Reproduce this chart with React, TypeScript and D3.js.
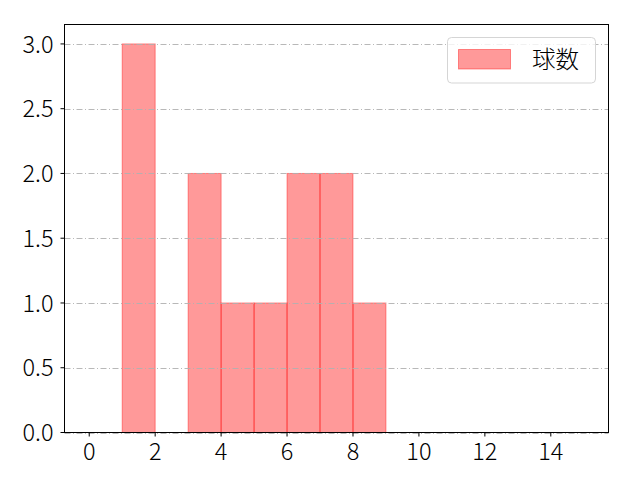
import React from "react";
import * as d3 from "d3";

const binStarts = [1, 3, 4, 5, 6, 7, 8];
const binCounts = [3, 2, 1, 1, 2, 2, 1];
const xTicks = [0, 2, 4, 6, 8, 10, 12, 14];
const yTicks = [0, 0.5, 1.0, 1.5, 2.0, 2.5, 3.0];
const seriesName = "球数";

const W = 640;
const H = 480;
const left = 64.5;
const right = 608.5;
const top = 24.5;
const bottom = 432.5;
const font = "'Noto Sans CJK JP', 'Noto Sans', sans-serif";
const fs = 23.5;
const fw = 300;

export default function App() {
  const x = d3.scaleLinear().domain([-0.75, 15.75]).range([left, right]);
  const y = d3.scaleLinear().domain([0, 3.15]).range([bottom, top]);
  return (
    <svg width={W} height={H} style={{ position: "absolute", left: 0, top: 0, background: "#fff" }}>
      <rect x={0} y={0} width={W} height={H} fill="#fff" />
      {binStarts.map((s, i) => (
        <rect
          key={i}
          x={x(s)}
          y={y(binCounts[i])}
          width={x(s + 1) - x(s)}
          height={y(0) - y(binCounts[i])}
          fill="rgba(255,0,0,0.4)"
          stroke="rgba(255,0,0,0.4)"
          strokeWidth={1}
        />
      ))}
      {yTicks.map((t) => (
        <line
          key={t}
          x1={left}
          x2={right}
          y1={Math.round(y(t)) + 0.5}
          y2={Math.round(y(t)) + 0.5}
          stroke="#b0b0b0"
          strokeWidth={0.9}
          strokeDasharray="6,2.5,1,2.5"
        />
      ))}
      <rect x={left} y={top} width={right - left} height={bottom - top} fill="none" stroke="#000" strokeWidth={1} />
      {xTicks.map((t) => (
        <g key={t}>
          <line x1={x(t)} x2={x(t)} y1={bottom} y2={bottom + 4} stroke="#000" strokeWidth={1} />
          <text x={x(t)} y={460} textAnchor="middle" fontFamily={font} fontSize={fs} fontWeight={fw} fill="#000">
            {t}
          </text>
        </g>
      ))}
      {yTicks.map((t) => (
        <g key={t}>
          <line x1={left - 4} x2={left} y1={y(t)} y2={y(t)} stroke="#000" strokeWidth={1} />
          <text x={left - 11} y={y(t)} dy="0.37em" textAnchor="end" fontFamily={font} fontSize={fs} fontWeight={fw} fill="#000">
            {t.toFixed(1)}
          </text>
        </g>
      ))}
      <rect x={447.5} y={37.5} width={148} height={45.5} rx={4} fill="rgba(255,255,255,0.8)" stroke="#d5d5d5" strokeWidth={1} />
      <rect x={458.5} y={49.5} width={52} height={19.5} fill="rgba(255,0,0,0.4)" stroke="rgba(255,0,0,0.4)" strokeWidth={1} />
      <text x={532} y={68} fontFamily={font} fontSize={fs} fontWeight={fw} fill="#000">
        {seriesName}
      </text>
    </svg>
  );
}
